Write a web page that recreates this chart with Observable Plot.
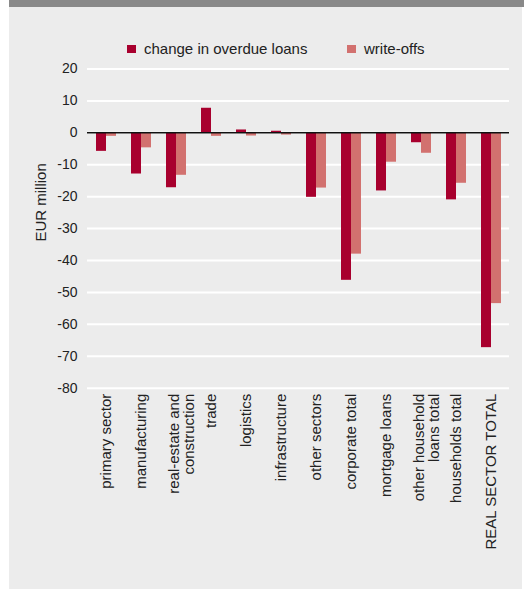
<!DOCTYPE html>
<html>
<head>
<meta charset="utf-8">
<script src="https://cdn.jsdelivr.net/npm/d3@7"></script>
<script src="https://cdn.jsdelivr.net/npm/@observablehq/plot@0.6"></script>
<style>
  html, body { margin: 0; padding: 0; background: #fff; }
  #wrap { position: relative; width: 524px; height: 589px; overflow: hidden; font-family: "Liberation Sans", Arial, sans-serif; }
  #panel { position: absolute; left: 9px; top: 0; width: 513px; height: 589px; background: #ececec; }
  #topbar { position: absolute; left: 9px; top: 0; width: 515px; height: 7px; background: #898989; }
  #chart { position: absolute; left: 0; top: 0; }
  #legend { position: absolute; top: 40px; left: 0; width: 524px; height: 18px; font-size: 15px; color: #222; }
  .item { position: absolute; top: 0; line-height: 18px; white-space: nowrap; }
  .sw { display: inline-block; width: 9px; height: 8px; margin-right: 8px; vertical-align: 1px; }
</style>
</head>
<body>
<div id="wrap">
  <div id="panel"></div>
  <div id="topbar"></div>
  <div id="chart"></div>
  <div id="legend"></div>
</div>
<script>
const categories = [
  "primary sector", "manufacturing", "real-estate and\nconstruction", "trade",
  "logistics", "infrastructure", "other sectors", "corporate total",
  "mortgage loans", "other household\nloans total", "households total", "REAL SECTOR TOTAL"
];
const seriesNames = ["change in overdue loans", "write-offs"];
const changeOverdue = [-5.8, -12.9, -17.2, 7.7, 0.9, 0.5, -20.2, -46.2, -18.2, -3.1, -21.0, -67.3];
const writeOffs = [-1.1, -4.7, -13.3, -1.1, -1.0, -0.7, -17.3, -38.0, -9.2, -6.4, -15.8, -53.5];
const yTicks = [20, 10, 0, -10, -20, -30, -40, -50, -60, -70, -80];
const colors = ["#a8002e", "#d2716f"];

const rowsChange = categories.map((c, i) => ({cat: c, series: seriesNames[0], value: changeOverdue[i]}));
const rowsWrite = categories.map((c, i) => ({cat: c, series: seriesNames[1], value: writeOffs[i]}));

const single = categories.filter(c => !c.includes("\n"));
const double = categories.filter(c => c.includes("\n"));

const plot = Plot.plot({
  width: 524,
  height: 589,
  marginLeft: 87,
  marginRight: 15,
  marginTop: 68.5,
  marginBottom: 201.3,
  style: {background: "none", fontFamily: "'Liberation Sans', Arial, sans-serif", fontSize: "14px", color: "#222"},
  x: {domain: categories, paddingInner: 0.431, paddingOuter: 0.2155, axis: null, label: null},
  y: {domain: [-80, 20], ticks: yTicks, label: null},
  color: {domain: seriesNames, range: colors},
  marks: [
    Plot.gridY(yTicks, {stroke: "#ffffff", strokeOpacity: 1, strokeWidth: 2}),
    Plot.axisY(yTicks, {tickSize: 0, tickPadding: 10, fontSize: 14, fill: "#222", label: null, tickFormat: d => d}),
    Plot.barY(rowsChange, {x: "cat", y: "value", fill: "series", insetRight: 10}),
    Plot.barY(rowsWrite, {x: "cat", y: "value", fill: "series", insetLeft: 10}),
    Plot.ruleY([0], {stroke: "#111", strokeWidth: 1.5}),
    Plot.text(single, {x: d => d, text: d => d, frameAnchor: "bottom", rotate: -90, textAnchor: "end", lineAnchor: "middle", dy: 5.5, fontSize: 15, fill: "#222"}),
    Plot.text(double, {x: d => d, text: d => d, frameAnchor: "bottom", rotate: -90, textAnchor: "end", lineAnchor: "middle", dy: 5.5, dx: 5.5, fontSize: 15, fill: "#222", lineHeight: 1}),
    Plot.text(["EUR million"], {frameAnchor: "left", text: d => d, rotate: -90, dx: -46, dy: 13, fontSize: 15, fill: "#222"})
  ]
});
document.getElementById("chart").appendChild(plot);

const legend = document.getElementById("legend");
const lx = [127, 347];
seriesNames.forEach((s, i) => {
  const it = document.createElement("div");
  it.className = "item";
  it.style.left = lx[i] + "px";
  it.innerHTML = `<span class="sw" style="background:${colors[i]}"></span>${s}`;
  legend.appendChild(it);
});
</script>
</body>
</html>
